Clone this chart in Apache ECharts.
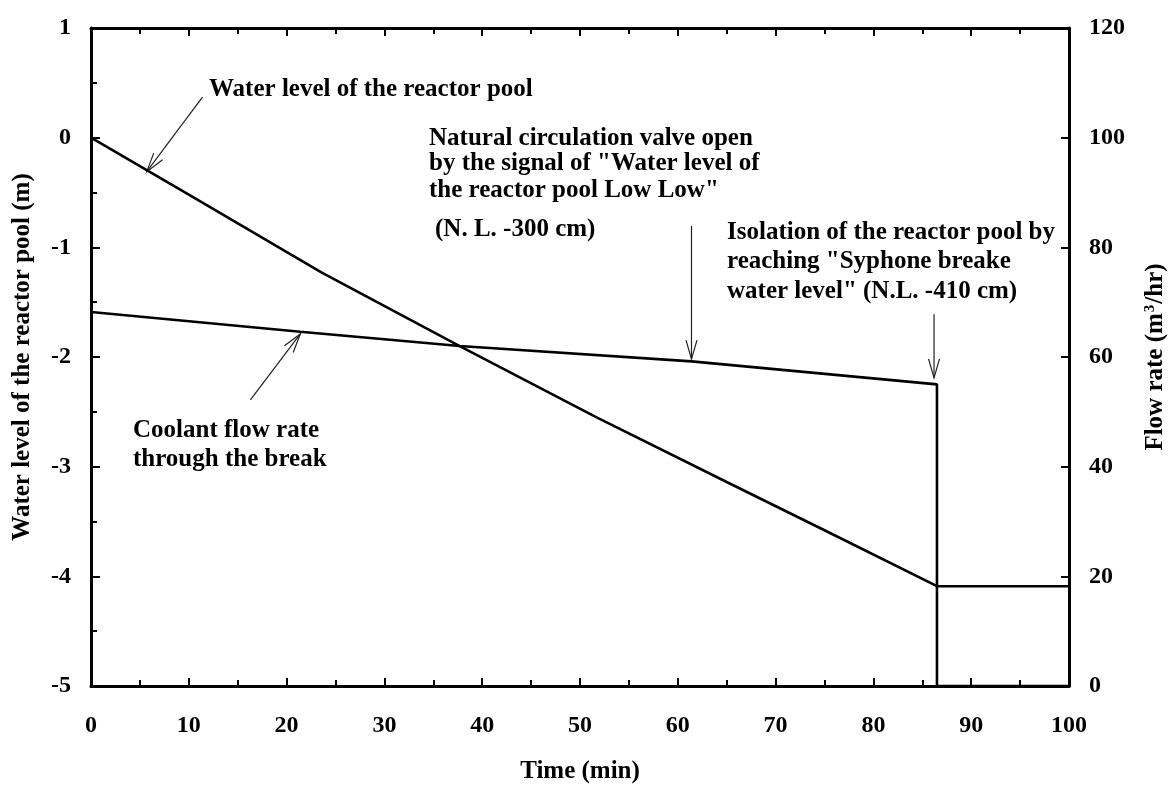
<!DOCTYPE html>
<html><head><meta charset="utf-8">
<script src="https://cdn.jsdelivr.net/npm/echarts@6/dist/echarts.min.js"></script>
<style>html,body{margin:0;padding:0;background:#fff}#c{width:1176px;height:789px}</style>
</head><body><div id="c"></div>
<script>
// ---- data ----
const waterTime  = [0, 10, 23.6, 37.7, 51.7, 65, 75, 86.5, 100];
const waterLevel = [0, -0.52, -1.23, -1.90, -2.55, -3.14, -3.58, -4.09, -4.09];
const flowTime   = [0, 21.4, 37.7, 61.4, 86.5, 86.5, 100];
const flowRate   = [68.2, 64.6, 62.0, 59.2, 55.0, 0, 0];

// annotation arrows: [tailTime, tailValue, tipTime, tipValue, yAxisIndex]
const arrowWater   = [11.4, 0.37, 5.7, -0.31, 0];
const arrowValve   = [61.4, 83.9, 61.4, 59.6, 1];
const arrowIsolate = [86.2, 67.8, 86.2, 56.2, 1];
const arrowCoolant = [16.3, 52.2, 21.4, 64.2, 1];

const FONT = '"Liberation Serif","Times New Roman",serif';

const chart = echarts.init(document.getElementById('c'), null, {renderer: 'canvas'});

const axisLine = {show: true, onZero: false, lineStyle: {color: '#000', width: 3}};
const tick = (len) => ({show: true, inside: true, length: len, lineStyle: {color: '#000', width: 2}});
const minor = {show: true, splitNumber: 2, length: 6, lineStyle: {color: '#000', width: 2}};
const lab = (margin, show) => ({show: show, color: '#000', fontFamily: FONT, fontWeight: 'bold', fontSize: 24, margin: margin});
const nameStyle = {color: '#000', fontFamily: FONT, fontWeight: 'bold', fontSize: 25, lineHeight: 25};

const option = {
  animation: false,
  backgroundColor: '#fff',
  grid: {left: 91, right: 100, top: 28, bottom: 97, containLabel: false},
  xAxis: [
    {type: 'value', min: 0, max: 100, interval: 10, position: 'bottom',
     axisLine: axisLine, axisTick: tick(8), minorTick: minor, splitLine: {show: false},
     axisLabel: lab(28, true),
     name: 'Time (min)', nameLocation: 'middle', nameGap: 73, nameTextStyle: nameStyle},
    {type: 'value', min: 0, max: 100, interval: 10, position: 'top',
     axisLine: axisLine, axisTick: tick(8), minorTick: minor, splitLine: {show: false},
     axisLabel: {show: false}}
  ],
  yAxis: [
    {type: 'value', min: -5, max: 1, interval: 1, position: 'left',
     axisLine: axisLine, axisTick: tick(9), minorTick: minor, splitLine: {show: false},
     axisLabel: lab(20, true),
     name: 'Water level of the reactor pool (m)', nameLocation: 'middle', nameRotate: 90,
     nameGap: 56, nameTextStyle: nameStyle},
    {type: 'value', min: 0, max: 120, interval: 20, position: 'right',
     axisLine: axisLine, axisTick: tick(8), splitLine: {show: false},
     axisLabel: lab(20, true),
     name: '{n|Flow rate (m}{s|3}{n|/hr)}', nameLocation: 'middle', nameRotate: 90,
     nameGap: 74,
     nameTextStyle: {color: '#000', fontFamily: FONT, fontWeight: 'bold', fontSize: 25, lineHeight: 25,
       rich: {
         n: {color: '#000', fontFamily: FONT, fontWeight: 'bold', fontSize: 25, lineHeight: 25},
         s: {color: '#000', fontFamily: FONT, fontWeight: 'bold', fontSize: 15, lineHeight: 25, verticalAlign: 'top', padding: [0, 1, 10, 1]}
       }}}
  ],
  series: [
    {name: 'Water level', type: 'line', xAxisIndex: 0, yAxisIndex: 0, symbol: 'none',
     lineStyle: {color: '#000', width: 2.6},
     data: waterTime.map((t, i) => [t, waterLevel[i]])},
    {name: 'Flow rate', type: 'line', xAxisIndex: 0, yAxisIndex: 1, symbol: 'none',
     lineStyle: {color: '#000', width: 2.6},
     data: flowTime.map((t, i) => [t, flowRate[i]])}
  ]
};
chart.setOption(option);

// ---- annotations ----
function px(t, v, yi) {
  return chart.convertToPixel({xAxisIndex: 0, yAxisIndex: yi}, [t, v]);
}
function arrow(a) {
  const p0 = px(a[0], a[1], a[4]);
  const p1 = px(a[2], a[3], a[4]);
  const dx = p1[0] - p0[0], dy = p1[1] - p0[1];
  const len = Math.hypot(dx, dy);
  const ux = dx / len, uy = dy / len;
  const L = 19, W = 5.5;
  const bx = p1[0] - ux * L, by = p1[1] - uy * L;
  const nx = -uy, ny = ux;
  return [
    {type: 'line', silent: true, shape: {x1: p0[0], y1: p0[1], x2: p1[0], y2: p1[1]},
     style: {stroke: '#222', lineWidth: 1.2}},
    {type: 'polyline', silent: true,
     shape: {points: [[bx + nx * W, by + ny * W], [p1[0], p1[1]], [bx - nx * W, by - ny * W]]},
     style: {stroke: '#222', lineWidth: 1.2, fill: null}}
  ];
}
function txt(s, x, baseline) {
  return {type: 'text', silent: true, x: x, y: baseline - 8,
    style: {text: s, fill: '#000', font: 'bold 25px ' + FONT, align: 'left', verticalAlign: 'middle'}};
}
const graphics = [
  txt('Water level of the reactor pool', 209, 98),
  txt('Natural circulation valve open', 429, 147),
  txt('by the signal of "Water level of', 429, 172),
  txt('the reactor pool Low Low"', 429, 199),
  txt('(N. L. -300 cm)', 435, 238),
  txt('Isolation of the reactor pool by', 727, 241),
  txt('reaching "Syphone breake', 727, 270),
  txt('water level" (N.L. -410 cm)', 727, 300),
  txt('Coolant flow rate', 133, 439),
  txt('through the break', 133, 468)
]
.concat(arrow(arrowWater))
.concat(arrow(arrowValve))
.concat(arrow(arrowIsolate))
.concat(arrow(arrowCoolant));
chart.setOption({graphic: graphics});
</script>
</body></html>
